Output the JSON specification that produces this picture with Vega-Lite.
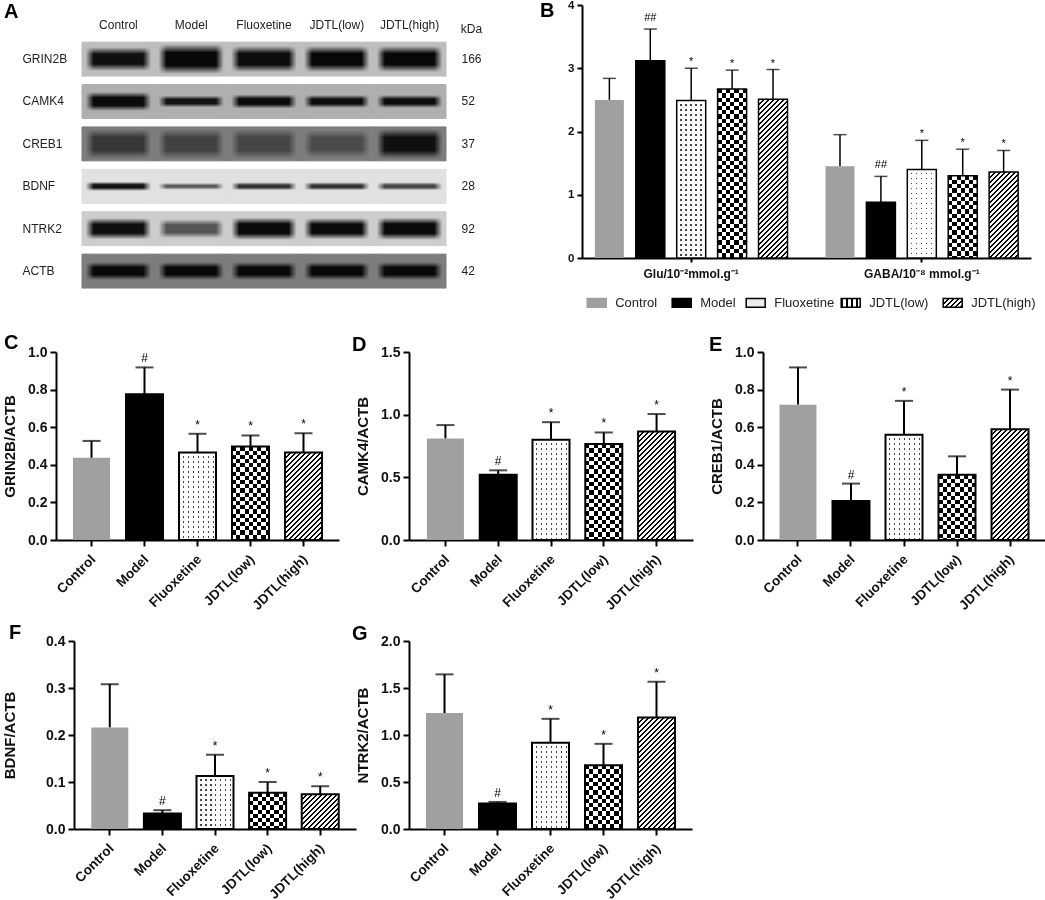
{
"$schema":"https://vega.github.io/schema/vega-lite/v6.json",
"background":"white",
"padding":{"left":2,"top":-1,"right":0,"bottom":0},
"params":[
{"name":"cw","value":"#fff"},
{"name":"ct","value":"rgba(255,255,255,0)"},
{"name":"ck","value":"#000"},
{"name":"checks","expr":"[{offset:0,color:cw},{offset:.025,color:cw},{offset:.025,color:ct},{offset:.05,color:ct},{offset:.05,color:cw},{offset:.075,color:cw},{offset:.075,color:ct},{offset:.1,color:ct},{offset:.1,color:cw},{offset:.125,color:cw},{offset:.125,color:ct},{offset:.15,color:ct},{offset:.15,color:cw},{offset:.175,color:cw},{offset:.175,color:ct},{offset:.2,color:ct},{offset:.2,color:cw},{offset:.225,color:cw},{offset:.225,color:ct},{offset:.25,color:ct},{offset:.25,color:cw},{offset:.275,color:cw},{offset:.275,color:ct},{offset:.3,color:ct},{offset:.3,color:cw},{offset:.325,color:cw},{offset:.325,color:ct},{offset:.35,color:ct},{offset:.35,color:cw},{offset:.375,color:cw},{offset:.375,color:ct},{offset:.4,color:ct},{offset:.4,color:cw},{offset:.425,color:cw},{offset:.425,color:ct},{offset:.45,color:ct},{offset:.45,color:cw},{offset:.475,color:cw},{offset:.475,color:ct},{offset:.5,color:ct},{offset:.5,color:cw},{offset:.525,color:cw},{offset:.525,color:ct},{offset:.55,color:ct},{offset:.55,color:cw},{offset:.575,color:cw},{offset:.575,color:ct},{offset:.6,color:ct},{offset:.6,color:cw},{offset:.625,color:cw},{offset:.625,color:ct},{offset:.65,color:ct},{offset:.65,color:cw},{offset:.675,color:cw},{offset:.675,color:ct},{offset:.7,color:ct},{offset:.7,color:cw},{offset:.725,color:cw},{offset:.725,color:ct},{offset:.75,color:ct},{offset:.75,color:cw},{offset:.775,color:cw},{offset:.775,color:ct},{offset:.8,color:ct},{offset:.8,color:cw},{offset:.825,color:cw},{offset:.825,color:ct},{offset:.85,color:ct},{offset:.85,color:cw},{offset:.875,color:cw},{offset:.875,color:ct},{offset:.9,color:ct},{offset:.9,color:cw},{offset:.925,color:cw},{offset:.925,color:ct},{offset:.95,color:ct},{offset:.95,color:cw},{offset:.975,color:cw},{offset:.975,color:ct},{offset:1,color:ct}]"},
{"name":"dots","expr":"[{offset:0,color:cw},{offset:.018,color:cw},{offset:.018,color:ct},{offset:.025,color:ct},{offset:.025,color:cw},{offset:.043,color:cw},{offset:.043,color:ct},{offset:.05,color:ct},{offset:.05,color:cw},{offset:.068,color:cw},{offset:.068,color:ct},{offset:.075,color:ct},{offset:.075,color:cw},{offset:.093,color:cw},{offset:.093,color:ct},{offset:.1,color:ct},{offset:.1,color:cw},{offset:.118,color:cw},{offset:.118,color:ct},{offset:.125,color:ct},{offset:.125,color:cw},{offset:.143,color:cw},{offset:.143,color:ct},{offset:.15,color:ct},{offset:.15,color:cw},{offset:.168,color:cw},{offset:.168,color:ct},{offset:.175,color:ct},{offset:.175,color:cw},{offset:.193,color:cw},{offset:.193,color:ct},{offset:.2,color:ct},{offset:.2,color:cw},{offset:.218,color:cw},{offset:.218,color:ct},{offset:.225,color:ct},{offset:.225,color:cw},{offset:.243,color:cw},{offset:.243,color:ct},{offset:.25,color:ct},{offset:.25,color:cw},{offset:.268,color:cw},{offset:.268,color:ct},{offset:.275,color:ct},{offset:.275,color:cw},{offset:.293,color:cw},{offset:.293,color:ct},{offset:.3,color:ct},{offset:.3,color:cw},{offset:.318,color:cw},{offset:.318,color:ct},{offset:.325,color:ct},{offset:.325,color:cw},{offset:.343,color:cw},{offset:.343,color:ct},{offset:.35,color:ct},{offset:.35,color:cw},{offset:.368,color:cw},{offset:.368,color:ct},{offset:.375,color:ct},{offset:.375,color:cw},{offset:.393,color:cw},{offset:.393,color:ct},{offset:.4,color:ct},{offset:.4,color:cw},{offset:.418,color:cw},{offset:.418,color:ct},{offset:.425,color:ct},{offset:.425,color:cw},{offset:.443,color:cw},{offset:.443,color:ct},{offset:.45,color:ct},{offset:.45,color:cw},{offset:.468,color:cw},{offset:.468,color:ct},{offset:.475,color:ct},{offset:.475,color:cw},{offset:.493,color:cw},{offset:.493,color:ct},{offset:.5,color:ct},{offset:.5,color:cw},{offset:.518,color:cw},{offset:.518,color:ct},{offset:.525,color:ct},{offset:.525,color:cw},{offset:.543,color:cw},{offset:.543,color:ct},{offset:.55,color:ct},{offset:.55,color:cw},{offset:.568,color:cw},{offset:.568,color:ct},{offset:.575,color:ct},{offset:.575,color:cw},{offset:.593,color:cw},{offset:.593,color:ct},{offset:.6,color:ct},{offset:.6,color:cw},{offset:.618,color:cw},{offset:.618,color:ct},{offset:.625,color:ct},{offset:.625,color:cw},{offset:.643,color:cw},{offset:.643,color:ct},{offset:.65,color:ct},{offset:.65,color:cw},{offset:.668,color:cw},{offset:.668,color:ct},{offset:.675,color:ct},{offset:.675,color:cw},{offset:.693,color:cw},{offset:.693,color:ct},{offset:.7,color:ct},{offset:.7,color:cw},{offset:.718,color:cw},{offset:.718,color:ct},{offset:.725,color:ct},{offset:.725,color:cw},{offset:.743,color:cw},{offset:.743,color:ct},{offset:.75,color:ct},{offset:.75,color:cw},{offset:.768,color:cw},{offset:.768,color:ct},{offset:.775,color:ct},{offset:.775,color:cw},{offset:.793,color:cw},{offset:.793,color:ct},{offset:.8,color:ct},{offset:.8,color:cw},{offset:1,color:cw}]"},
{"name":"hatch","expr":"[{offset:0,color:ck},{offset:.01,color:ck},{offset:.01,color:cw},{offset:.025,color:cw},{offset:.025,color:ck},{offset:.035,color:ck},{offset:.035,color:cw},{offset:.05,color:cw},{offset:.05,color:ck},{offset:.06,color:ck},{offset:.06,color:cw},{offset:.075,color:cw},{offset:.075,color:ck},{offset:.085,color:ck},{offset:.085,color:cw},{offset:.1,color:cw},{offset:.1,color:ck},{offset:.11,color:ck},{offset:.11,color:cw},{offset:.125,color:cw},{offset:.125,color:ck},{offset:.135,color:ck},{offset:.135,color:cw},{offset:.15,color:cw},{offset:.15,color:ck},{offset:.16,color:ck},{offset:.16,color:cw},{offset:.175,color:cw},{offset:.175,color:ck},{offset:.185,color:ck},{offset:.185,color:cw},{offset:.2,color:cw},{offset:.2,color:ck},{offset:.21,color:ck},{offset:.21,color:cw},{offset:.225,color:cw},{offset:.225,color:ck},{offset:.235,color:ck},{offset:.235,color:cw},{offset:.25,color:cw},{offset:.25,color:ck},{offset:.26,color:ck},{offset:.26,color:cw},{offset:.275,color:cw},{offset:.275,color:ck},{offset:.285,color:ck},{offset:.285,color:cw},{offset:.3,color:cw},{offset:.3,color:ck},{offset:.31,color:ck},{offset:.31,color:cw},{offset:.325,color:cw},{offset:.325,color:ck},{offset:.335,color:ck},{offset:.335,color:cw},{offset:.35,color:cw},{offset:.35,color:ck},{offset:.36,color:ck},{offset:.36,color:cw},{offset:.375,color:cw},{offset:.375,color:ck},{offset:.385,color:ck},{offset:.385,color:cw},{offset:.4,color:cw},{offset:.4,color:ck},{offset:.41,color:ck},{offset:.41,color:cw},{offset:.425,color:cw},{offset:.425,color:ck},{offset:.435,color:ck},{offset:.435,color:cw},{offset:.45,color:cw},{offset:.45,color:ck},{offset:.46,color:ck},{offset:.46,color:cw},{offset:.475,color:cw},{offset:.475,color:ck},{offset:.485,color:ck},{offset:.485,color:cw},{offset:.5,color:cw},{offset:.5,color:ck},{offset:.51,color:ck},{offset:.51,color:cw},{offset:.525,color:cw},{offset:.525,color:ck},{offset:.535,color:ck},{offset:.535,color:cw},{offset:.55,color:cw},{offset:.55,color:ck},{offset:.56,color:ck},{offset:.56,color:cw},{offset:.575,color:cw},{offset:.575,color:ck},{offset:.585,color:ck},{offset:.585,color:cw},{offset:.6,color:cw},{offset:.6,color:ck},{offset:.61,color:ck},{offset:.61,color:cw},{offset:.625,color:cw},{offset:.625,color:ck},{offset:.635,color:ck},{offset:.635,color:cw},{offset:.65,color:cw},{offset:.65,color:ck},{offset:.66,color:ck},{offset:.66,color:cw},{offset:.675,color:cw},{offset:.675,color:ck},{offset:.685,color:ck},{offset:.685,color:cw},{offset:.7,color:cw},{offset:.7,color:ck},{offset:.71,color:ck},{offset:.71,color:cw},{offset:.725,color:cw},{offset:.725,color:ck},{offset:.735,color:ck},{offset:.735,color:cw},{offset:.75,color:cw},{offset:.75,color:ck},{offset:.76,color:ck},{offset:.76,color:cw},{offset:.775,color:cw},{offset:.775,color:ck},{offset:.785,color:ck},{offset:.785,color:cw},{offset:.8,color:cw},{offset:.8,color:ck},{offset:.81,color:ck},{offset:.81,color:cw},{offset:.825,color:cw},{offset:.825,color:ck},{offset:.835,color:ck},{offset:.835,color:cw},{offset:.85,color:cw},{offset:.85,color:ck},{offset:.86,color:ck},{offset:.86,color:cw},{offset:.875,color:cw},{offset:.875,color:ck},{offset:.885,color:ck},{offset:.885,color:cw},{offset:.9,color:cw},{offset:.9,color:ck},{offset:.91,color:ck},{offset:.91,color:cw},{offset:.925,color:cw},{offset:.925,color:ck},{offset:.935,color:ck},{offset:.935,color:cw},{offset:.95,color:cw},{offset:.95,color:ck},{offset:.96,color:ck},{offset:.96,color:cw},{offset:.975,color:cw},{offset:.975,color:ck},{offset:.985,color:ck},{offset:.985,color:cw},{offset:1,color:cw}]"}
],
"data":{"values":[
{"panel":"B","metric":"Glu/10⁻²mmol.g⁻¹","group":"Control","value":2.5,"upper":2.84,"sig":""},
{"panel":"B","metric":"Glu/10⁻²mmol.g⁻¹","group":"Model","value":3.12,"upper":3.62,"sig":"##"},
{"panel":"B","metric":"Glu/10⁻²mmol.g⁻¹","group":"Fluoxetine","value":2.49,"upper":3.0,"sig":"*"},
{"panel":"B","metric":"Glu/10⁻²mmol.g⁻¹","group":"JDTL(low)","value":2.67,"upper":2.97,"sig":"*"},
{"panel":"B","metric":"Glu/10⁻²mmol.g⁻¹","group":"JDTL(high)","value":2.51,"upper":2.98,"sig":"*"},
{"panel":"B","metric":"GABA/10⁻⁸ mmol.g⁻¹","group":"Control","value":1.45,"upper":1.95,"sig":""},
{"panel":"B","metric":"GABA/10⁻⁸ mmol.g⁻¹","group":"Model","value":0.88,"upper":1.29,"sig":"##"},
{"panel":"B","metric":"GABA/10⁻⁸ mmol.g⁻¹","group":"Fluoxetine","value":1.4,"upper":1.86,"sig":"*"},
{"panel":"B","metric":"GABA/10⁻⁸ mmol.g⁻¹","group":"JDTL(low)","value":1.3,"upper":1.72,"sig":"*"},
{"panel":"B","metric":"GABA/10⁻⁸ mmol.g⁻¹","group":"JDTL(high)","value":1.36,"upper":1.7,"sig":"*"},
{"panel":"C","group":"Control","value":0.437,"upper":0.527,"sig":""},
{"panel":"C","group":"Model","value":0.775,"upper":0.918,"sig":"#"},
{"panel":"C","group":"Fluoxetine","value":0.465,"upper":0.565,"sig":"*"},
{"panel":"C","group":"JDTL(low)","value":0.498,"upper":0.556,"sig":"*"},
{"panel":"C","group":"JDTL(high)","value":0.465,"upper":0.568,"sig":"*"},
{"panel":"D","group":"Control","value":0.81,"upper":0.917,"sig":""},
{"panel":"D","group":"Model","value":0.52,"upper":0.556,"sig":"#"},
{"panel":"D","group":"Fluoxetine","value":0.8,"upper":0.94,"sig":"*"},
{"panel":"D","group":"JDTL(low)","value":0.765,"upper":0.858,"sig":"*"},
{"panel":"D","group":"JDTL(high)","value":0.866,"upper":1.005,"sig":"*"},
{"panel":"E","group":"Control","value":0.72,"upper":0.918,"sig":""},
{"panel":"E","group":"Model","value":0.208,"upper":0.3,"sig":"#"},
{"panel":"E","group":"Fluoxetine","value":0.56,"upper":0.74,"sig":"*"},
{"panel":"E","group":"JDTL(low)","value":0.347,"upper":0.445,"sig":""},
{"panel":"E","group":"JDTL(high)","value":0.589,"upper":0.8,"sig":"*"},
{"panel":"F","group":"Control","value":0.216,"upper":0.308,"sig":""},
{"panel":"F","group":"Model","value":0.033,"upper":0.04,"sig":"#"},
{"panel":"F","group":"Fluoxetine","value":0.113,"upper":0.158,"sig":"*"},
{"panel":"F","group":"JDTL(low)","value":0.077,"upper":0.1,"sig":"*"},
{"panel":"F","group":"JDTL(high)","value":0.074,"upper":0.091,"sig":"*"},
{"panel":"G","group":"Control","value":1.233,"upper":1.645,"sig":""},
{"panel":"G","group":"Model","value":0.27,"upper":0.288,"sig":"#"},
{"panel":"G","group":"Fluoxetine","value":0.917,"upper":1.172,"sig":"*"},
{"panel":"G","group":"JDTL(low)","value":0.678,"upper":0.906,"sig":"*"},
{"panel":"G","group":"JDTL(high)","value":1.187,"upper":1.567,"sig":"*"}
]},
"transform":[
{"calculate":"({B:4,C:1,D:1.5,E:1,F:0.4,G:2})[datum.panel]","as":"ymax"},
{"calculate":"datum.value/datum.ymax*(datum.panel==='B'?253:188)","as":"ph"},
{"calculate":"datum.panel==='B'?29:37","as":"pw"},
{"calculate":"datum.group==='Fluoxetine'?{gradient:'linear',x1:0,y1:0,x2:0,y2:200/datum.ph,stops:dots}:datum.group==='JDTL(low)'?{gradient:'linear',x1:0,y1:0,x2:0,y2:168/datum.ph,stops:checks}:datum.group==='JDTL(high)'?{gradient:'linear',x1:0,y1:0,x2:200*datum.pw/(datum.pw*datum.pw+datum.ph*datum.ph),y2:200*datum.ph/(datum.pw*datum.pw+datum.ph*datum.ph),stops:hatch}:null","as":"fillA"},
{"calculate":"datum.group==='Fluoxetine'?{gradient:'linear',x1:0,y1:0,x2:200/datum.pw,y2:0,stops:dots}:null","as":"fillB"},
{"calculate":"datum.group==='JDTL(low)'?{gradient:'linear',x1:0,y1:0,x2:168/datum.pw,y2:0,stops:checks}:null","as":"fillC"}
],
"spacing":11,
"vconcat":[
{"spacing":23,"vconcat":[
{"bounds":"flush","spacing":136,"hconcat":[
{"width":390,"height":289,
"title":{"text":"A","dx":-52,"offset":-17},
"data":{"values":[
{"protein":"GRIN2B","lane":"Control","signal":15,"background":190,"thick":17},
{"protein":"GRIN2B","lane":"Model","signal":8,"background":190,"thick":22},
{"protein":"GRIN2B","lane":"Fluoxetine","signal":12,"background":190,"thick":19},
{"protein":"GRIN2B","lane":"JDTL(low)","signal":8,"background":190,"thick":19},
{"protein":"GRIN2B","lane":"JDTL(high)","signal":8,"background":190,"thick":19},
{"protein":"CAMK4","lane":"Control","signal":10,"background":175,"thick":13},
{"protein":"CAMK4","lane":"Model","signal":18,"background":175,"thick":7},
{"protein":"CAMK4","lane":"Fluoxetine","signal":10,"background":175,"thick":9},
{"protein":"CAMK4","lane":"JDTL(low)","signal":12,"background":175,"thick":8},
{"protein":"CAMK4","lane":"JDTL(high)","signal":12,"background":175,"thick":8},
{"protein":"CREB1","lane":"Control","signal":55,"background":125,"thick":22},
{"protein":"CREB1","lane":"Model","signal":65,"background":125,"thick":22},
{"protein":"CREB1","lane":"Fluoxetine","signal":70,"background":125,"thick":22},
{"protein":"CREB1","lane":"JDTL(low)","signal":75,"background":125,"thick":20},
{"protein":"CREB1","lane":"JDTL(high)","signal":15,"background":125,"thick":22},
{"protein":"BDNF","lane":"Control","signal":20,"background":225,"thick":5},
{"protein":"BDNF","lane":"Model","signal":90,"background":225,"thick":3},
{"protein":"BDNF","lane":"Fluoxetine","signal":50,"background":225,"thick":4},
{"protein":"BDNF","lane":"JDTL(low)","signal":50,"background":225,"thick":4},
{"protein":"BDNF","lane":"JDTL(high)","signal":70,"background":225,"thick":4},
{"protein":"NTRK2","lane":"Control","signal":15,"background":205,"thick":15},
{"protein":"NTRK2","lane":"Model","signal":85,"background":205,"thick":13},
{"protein":"NTRK2","lane":"Fluoxetine","signal":10,"background":205,"thick":16},
{"protein":"NTRK2","lane":"JDTL(low)","signal":10,"background":205,"thick":15},
{"protein":"NTRK2","lane":"JDTL(high)","signal":10,"background":205,"thick":16},
{"protein":"ACTB","lane":"Control","signal":8,"background":125,"thick":12},
{"protein":"ACTB","lane":"Model","signal":8,"background":125,"thick":12},
{"protein":"ACTB","lane":"Fluoxetine","signal":8,"background":125,"thick":12},
{"protein":"ACTB","lane":"JDTL(low)","signal":8,"background":125,"thick":12},
{"protein":"ACTB","lane":"JDTL(high)","signal":8,"background":125,"thick":12}
]},
"transform":[
{"calculate":"'rgb('+datum.background+','+datum.background+','+datum.background+')'","as":"bg"},
{"calculate":"'rgb('+datum.signal+','+datum.signal+','+datum.signal+')'","as":"dk"},
{"calculate":"'rgba('+datum.background+','+datum.background+','+datum.background+',0)'","as":"bg0"},
{"calculate":"datum.thick/34","as":"f"},
{"calculate":"{gradient:'linear',x1:0,y1:0,x2:0,y2:1,stops:[{offset:0,color:datum.bg},{offset:max(0,.5-.6*datum.f-.05),color:datum.bg},{offset:.5-.3*datum.f,color:datum.dk},{offset:.5+.3*datum.f,color:datum.dk},{offset:min(1,.5+.6*datum.f+.05),color:datum.bg},{offset:1,color:datum.bg}]}","as":"bandFill"},
{"calculate":"{gradient:'linear',x1:0,y1:0,x2:1,y2:0,stops:[{offset:0,color:datum.bg},{offset:.05,color:datum.bg},{offset:.16,color:datum.bg0},{offset:.84,color:datum.bg0},{offset:.95,color:datum.bg},{offset:1,color:datum.bg}]}","as":"edgeFill"}
],
"encoding":{
"x":{"field":"lane","type":"nominal","sort":["Control","Model","Fluoxetine","JDTL(low)","JDTL(high)"],"scale":{"paddingInner":0,"paddingOuter":0.1786,"align":1}},
"y":{"field":"protein","type":"nominal","sort":["GRIN2B","CAMK4","CREB1","BDNF","NTRK2","ACTB"],"scale":{"paddingInner":0.2,"paddingOuter":0.508,"align":0.862}}
},
"layer":[
{"mark":"rect","encoding":{
"x":{"field":"lane","type":"nominal","sort":["Control","Model","Fluoxetine","JDTL(low)","JDTL(high)"],"axis":{"orient":"top","domain":false,"ticks":false,"labelAngle":0,"labelAlign":"center","labelBaseline":"bottom","labelPadding":-26,"labelFontWeight":"normal","labelFontSize":12,"labelOffset":0,"labelColor":"#222","title":"kDa","titleFontWeight":"normal","titleFontSize":12,"titleColor":"#222","titleX":415,"titleY":23,"titleAlign":"center","titleBaseline":"middle"}},
"y":{"field":"protein","type":"nominal","sort":["GRIN2B","CAMK4","CREB1","BDNF","NTRK2","ACTB"],"axis":{"orient":"left","domain":false,"ticks":false,"labelAlign":"left","labelPadding":34,"labelFontWeight":"normal","labelFontSize":12,"labelColor":"#222","title":null}},
"fill":{"field":"bandFill","type":"nominal","scale":null}}},
{"mark":{"type":"rect","strokeWidth":1},"encoding":{
"y":{"field":"protein","type":"nominal","sort":["GRIN2B","CAMK4","CREB1","BDNF","NTRK2","ACTB"],"axis":{"orient":"right","domain":false,"ticks":false,"labelAlign":"left","labelPadding":15,"labelFontWeight":"normal","labelFontSize":12,"labelColor":"#222","title":null,"labelExpr":"({GRIN2B:'166',CAMK4:'52',CREB1:'37',BDNF:'28',NTRK2:'92',ACTB:'42'})[datum.label]"}},
"stroke":{"field":"bg","type":"nominal","scale":null},
"fill":{"field":"edgeFill","type":"nominal","scale":null}}}
],
"resolve":{"axis":{"y":"independent"}}
},
{"width":449,"height":253,
"title":{"text":"B","dx":-42,"offset":-22},
"transform":[{"filter":"datum.panel==='B'"}],
"layer":[
{"encoding":{
"x":{"field":"metric","type":"nominal","sort":["Glu/10⁻²mmol.g⁻¹","GABA/10⁻⁸ mmol.g⁻¹"],"scale":{"paddingInner":0.113,"paddingOuter":0.03},"axis":{"title":null,"labelAngle":0,"labelAlign":"center","labelBaseline":"top","labelOffset":0,"labelFontSize":12,"labelPadding":6,"tickSize":4}},
"xOffset":{"field":"group","type":"nominal","sort":["Control","Model","Fluoxetine","JDTL(low)","JDTL(high)"]},
"y":{"field":"value","type":"quantitative","stack":null,"scale":{"domain":[0,4]},"axis":{"title":null,"values":[0,1,2,3,4],"format":"d","labelFontSize":11.5,"tickSize":5}}
},
"layer":[
{"mark":{"type":"rule","strokeWidth":1.5},"encoding":{"y2":{"field":"upper"}}},
{"mark":{"type":"tick","size":13,"thickness":1.5,"color":"#000"},"encoding":{"y":{"field":"upper","type":"quantitative"}}},
{"mark":{"type":"bar","width":29},"encoding":{"fill":{"field":"group","type":"nominal","scale":{"domain":["Control","Model","Fluoxetine","JDTL(low)","JDTL(high)"],"range":["#a0a0a0","#000","#444","#000","#fff"]},"legend":null}}},
{"mark":{"type":"bar","width":29},"encoding":{"fill":{"field":"fillA","type":"nominal","scale":null}}},
{"mark":{"type":"bar","width":29},"encoding":{"fill":{"field":"fillB","type":"nominal","scale":null}}},
{"mark":{"type":"bar","width":29,"blend":"difference"},"encoding":{"fill":{"field":"fillC","type":"nominal","scale":null}}},
{"transform":[{"filter":"datum.group!=='Control'"}],"mark":{"type":"bar","width":29,"fill":null,"stroke":"#000","strokeWidth":1.5}},
{"mark":{"type":"text","font":"Liberation Sans","fontSize":11,"baseline":"alphabetic","dy":{"expr":"datum.sig==='##'?-8:-3"}},"encoding":{"y":{"field":"upper","type":"quantitative"},"text":{"field":"sig"}}}
]},
{"transform":[{"filter":"datum.metric==='Glu/10⁻²mmol.g⁻¹'"},
{"calculate":"datum.group==='Control'?'#a0a0a0':datum.group==='Model'?'#000':datum.group==='Fluoxetine'?'#ececec':datum.group==='JDTL(low)'?{gradient:'linear',x1:0,y1:0,x2:10.5,y2:0,stops:hatch}:{gradient:'linear',x1:0,y1:0,x2:8.6,y2:4.1,stops:hatch}","as":"swatch"},
{"calculate":"datum.group==='Control'?'#a0a0a0':'#000'","as":"edge"}],
"mark":{"type":"bar","width":19,"strokeWidth":1.5,"xOffset":{"expr":"({'Control':-94.5,'Model':-9.5,'Fluoxetine':64.5,'JDTL(low)':159.5,'JDTL(high)':261.5})[datum.group]"}},
"encoding":{
"x":{"field":"metric","type":"nominal","sort":["Glu/10⁻²mmol.g⁻¹","GABA/10⁻⁸ mmol.g⁻¹"]},
"y":{"datum":-0.64,"type":"quantitative"},"y2":{"datum":-0.78},
"fill":{"field":"swatch","type":"nominal","scale":null},
"stroke":{"field":"edge","type":"nominal","scale":null}}},
{"transform":[{"filter":"datum.metric==='Glu/10⁻²mmol.g⁻¹'"}],
"mark":{"type":"text","align":"left","baseline":"middle","font":"Liberation Sans","fontSize":13,"color":"#222","xOffset":{"expr":"({'Control':-76,'Model':9,'Fluoxetine':83,'JDTL(low)':178,'JDTL(high)':280})[datum.group]"}},
"encoding":{
"x":{"field":"metric","type":"nominal","sort":["Glu/10⁻²mmol.g⁻¹","GABA/10⁻⁸ mmol.g⁻¹"]},
"y":{"datum":-0.71,"type":"quantitative"},
"text":{"field":"group"}}}
]
}
]},
{"bounds":"flush","spacing":70,"hconcat":[
{"width":283,"height":188,
"title":{"text":"C","dx":-52,"offset":-8},
"transform":[{"filter":"datum.panel==='C'"}],
"encoding":{
"x":{"field":"group","type":"nominal","sort":["Control","Model","Fluoxetine","JDTL(low)","JDTL(high)"],"scale":{"paddingInner":0,"paddingOuter":0.17},"axis":{"title":null}},
"y":{"field":"value","type":"quantitative","stack":null,"scale":{"domain":[0,1]},"axis":{"title":"GRIN2B/ACTB","values":[0,0.2,0.4,0.6,0.8,1],"format":".1f"}}
},
"layer":[
{"mark":{"type":"rule","strokeWidth":2},"encoding":{"y2":{"field":"upper"}}},
{"mark":{"type":"tick","size":18,"thickness":2,"color":"#000"},"encoding":{"y":{"field":"upper","type":"quantitative"}}},
{"mark":{"type":"bar","width":37},"encoding":{"fill":{"field":"group","type":"nominal","scale":{"domain":["Control","Model","Fluoxetine","JDTL(low)","JDTL(high)"],"range":["#a0a0a0","#000","#444","#000","#fff"]},"legend":null}}},
{"mark":{"type":"bar","width":37},"encoding":{"fill":{"field":"fillA","type":"nominal","scale":null}}},
{"mark":{"type":"bar","width":37},"encoding":{"fill":{"field":"fillB","type":"nominal","scale":null}}},
{"mark":{"type":"bar","width":37,"blend":"difference"},"encoding":{"fill":{"field":"fillC","type":"nominal","scale":null}}},
{"transform":[{"filter":"datum.group!=='Control'"}],"mark":{"type":"bar","width":37,"fill":null,"stroke":"#000","strokeWidth":2}},
{"mark":{"type":"text","font":"Liberation Sans","fontSize":12,"baseline":"alphabetic","dy":-5},"encoding":{"y":{"field":"upper","type":"quantitative"},"text":{"field":"sig"}}}
]
},
{"width":284,"height":188,
"title":{"text":"D","dx":-57,"offset":-10},
"transform":[{"filter":"datum.panel==='D'"}],
"encoding":{
"x":{"field":"group","type":"nominal","sort":["Control","Model","Fluoxetine","JDTL(low)","JDTL(high)"],"scale":{"paddingInner":0,"paddingOuter":0.19},"axis":{"title":null}},
"y":{"field":"value","type":"quantitative","stack":null,"scale":{"domain":[0,1.5]},"axis":{"title":"CAMK4/ACTB","values":[0,0.5,1,1.5],"format":".1f"}}
},
"layer":[
{"mark":{"type":"rule","strokeWidth":2},"encoding":{"y2":{"field":"upper"}}},
{"mark":{"type":"tick","size":18,"thickness":2,"color":"#000"},"encoding":{"y":{"field":"upper","type":"quantitative"}}},
{"mark":{"type":"bar","width":37},"encoding":{"fill":{"field":"group","type":"nominal","scale":{"domain":["Control","Model","Fluoxetine","JDTL(low)","JDTL(high)"],"range":["#a0a0a0","#000","#444","#000","#fff"]},"legend":null}}},
{"mark":{"type":"bar","width":37},"encoding":{"fill":{"field":"fillA","type":"nominal","scale":null}}},
{"mark":{"type":"bar","width":37},"encoding":{"fill":{"field":"fillB","type":"nominal","scale":null}}},
{"mark":{"type":"bar","width":37,"blend":"difference"},"encoding":{"fill":{"field":"fillC","type":"nominal","scale":null}}},
{"transform":[{"filter":"datum.group!=='Control'"}],"mark":{"type":"bar","width":37,"fill":null,"stroke":"#000","strokeWidth":2}},
{"mark":{"type":"text","font":"Liberation Sans","fontSize":12,"baseline":"alphabetic","dy":-5},"encoding":{"y":{"field":"upper","type":"quantitative"},"text":{"field":"sig"}}}
]
},
{"width":282,"height":188,
"title":{"text":"E","dx":-54,"offset":-10},
"transform":[{"filter":"datum.panel==='E'"}],
"encoding":{
"x":{"field":"group","type":"nominal","sort":["Control","Model","Fluoxetine","JDTL(low)","JDTL(high)"],"scale":{"paddingInner":0,"paddingOuter":0.16},"axis":{"title":null}},
"y":{"field":"value","type":"quantitative","stack":null,"scale":{"domain":[0,1]},"axis":{"title":"CREB1/ACTB","values":[0,0.2,0.4,0.6,0.8,1],"format":".1f"}}
},
"layer":[
{"mark":{"type":"rule","strokeWidth":2},"encoding":{"y2":{"field":"upper"}}},
{"mark":{"type":"tick","size":18,"thickness":2,"color":"#000"},"encoding":{"y":{"field":"upper","type":"quantitative"}}},
{"mark":{"type":"bar","width":37},"encoding":{"fill":{"field":"group","type":"nominal","scale":{"domain":["Control","Model","Fluoxetine","JDTL(low)","JDTL(high)"],"range":["#a0a0a0","#000","#444","#000","#fff"]},"legend":null}}},
{"mark":{"type":"bar","width":37},"encoding":{"fill":{"field":"fillA","type":"nominal","scale":null}}},
{"mark":{"type":"bar","width":37},"encoding":{"fill":{"field":"fillB","type":"nominal","scale":null}}},
{"mark":{"type":"bar","width":37,"blend":"difference"},"encoding":{"fill":{"field":"fillC","type":"nominal","scale":null}}},
{"transform":[{"filter":"datum.group!=='Control'"}],"mark":{"type":"bar","width":37,"fill":null,"stroke":"#000","strokeWidth":2}},
{"mark":{"type":"text","font":"Liberation Sans","fontSize":12,"baseline":"alphabetic","dy":-5},"encoding":{"y":{"field":"upper","type":"quantitative"},"text":{"field":"sig"}}}
]
}
]}
]},
{"spacing":-4,"hconcat":[
{"bounds":"flush","spacing":9,"hconcat":[
{"width":9,"height":188,"data":{"values":[{"spacer":""}]},"mark":{"type":"text"},"encoding":{"text":{"field":"spacer"}}},
{"width":282,"height":188,
"title":{"text":"F","dx":-65,"offset":-9},
"transform":[{"filter":"datum.panel==='F'"}],
"encoding":{
"x":{"field":"group","type":"nominal","sort":["Control","Model","Fluoxetine","JDTL(low)","JDTL(high)"],"scale":{"paddingInner":0,"paddingOuter":0.18},"axis":{"title":null}},
"y":{"field":"value","type":"quantitative","stack":null,"scale":{"domain":[0,0.4]},"axis":{"title":"BDNF/ACTB","titlePadding":28,"values":[0,0.1,0.2,0.3,0.4],"format":".1f"}}
},
"layer":[
{"mark":{"type":"rule","strokeWidth":2},"encoding":{"y2":{"field":"upper"}}},
{"mark":{"type":"tick","size":18,"thickness":2,"color":"#000"},"encoding":{"y":{"field":"upper","type":"quantitative"}}},
{"mark":{"type":"bar","width":37},"encoding":{"fill":{"field":"group","type":"nominal","scale":{"domain":["Control","Model","Fluoxetine","JDTL(low)","JDTL(high)"],"range":["#a0a0a0","#000","#444","#000","#fff"]},"legend":null}}},
{"mark":{"type":"bar","width":37},"encoding":{"fill":{"field":"fillA","type":"nominal","scale":null}}},
{"mark":{"type":"bar","width":37},"encoding":{"fill":{"field":"fillB","type":"nominal","scale":null}}},
{"mark":{"type":"bar","width":37,"blend":"difference"},"encoding":{"fill":{"field":"fillC","type":"nominal","scale":null}}},
{"transform":[{"filter":"datum.group!=='Control'"}],"mark":{"type":"bar","width":37,"fill":null,"stroke":"#000","strokeWidth":2}},
{"mark":{"type":"text","font":"Liberation Sans","fontSize":12,"baseline":"alphabetic","dy":-5},"encoding":{"y":{"field":"upper","type":"quantitative"},"text":{"field":"sig"}}}
]
}
]},
{"width":283,"height":188,
"title":{"text":"G","dx":-57,"offset":-10},
"transform":[{"filter":"datum.panel==='G'"}],
"encoding":{
"x":{"field":"group","type":"nominal","sort":["Control","Model","Fluoxetine","JDTL(low)","JDTL(high)"],"scale":{"paddingInner":0,"paddingOuter":0.17},"axis":{"title":null}},
"y":{"field":"value","type":"quantitative","stack":null,"scale":{"domain":[0,2]},"axis":{"title":"NTRK2/ACTB","values":[0,0.5,1,1.5,2],"format":".1f"}}
},
"layer":[
{"mark":{"type":"rule","strokeWidth":2},"encoding":{"y2":{"field":"upper"}}},
{"mark":{"type":"tick","size":18,"thickness":2,"color":"#000"},"encoding":{"y":{"field":"upper","type":"quantitative"}}},
{"mark":{"type":"bar","width":37},"encoding":{"fill":{"field":"group","type":"nominal","scale":{"domain":["Control","Model","Fluoxetine","JDTL(low)","JDTL(high)"],"range":["#a0a0a0","#000","#444","#000","#fff"]},"legend":null}}},
{"mark":{"type":"bar","width":37},"encoding":{"fill":{"field":"fillA","type":"nominal","scale":null}}},
{"mark":{"type":"bar","width":37},"encoding":{"fill":{"field":"fillB","type":"nominal","scale":null}}},
{"mark":{"type":"bar","width":37,"blend":"difference"},"encoding":{"fill":{"field":"fillC","type":"nominal","scale":null}}},
{"transform":[{"filter":"datum.group!=='Control'"}],"mark":{"type":"bar","width":37,"fill":null,"stroke":"#000","strokeWidth":2}},
{"mark":{"type":"text","font":"Liberation Sans","fontSize":12,"baseline":"alphabetic","dy":-5},"encoding":{"y":{"field":"upper","type":"quantitative"},"text":{"field":"sig"}}}
]
}
]}
],
"config":{
"view":{"stroke":null},
"title":{"anchor":"start","frame":"group","offset":0,"font":"Liberation Sans","fontSize":20,"fontWeight":"bold","baseline":"alphabetic","color":"#000"},
"axis":{"grid":false,"domainColor":"#000","domainWidth":2,"tickColor":"#000","tickWidth":2,"tickSize":6,"labelFont":"Liberation Sans","labelFontWeight":"bold","labelFontSize":14,"labelColor":"#111","labelPadding":3,"titleFont":"Liberation Sans","titleFontWeight":"bold","titleFontSize":15,"titleColor":"#111","titlePadding":10},
"axisX":{"labelAngle":-45,"labelAlign":"right","labelBaseline":"top","labelPadding":6,"labelFontSize":13.5,"labelOffset":-3}
}
}
